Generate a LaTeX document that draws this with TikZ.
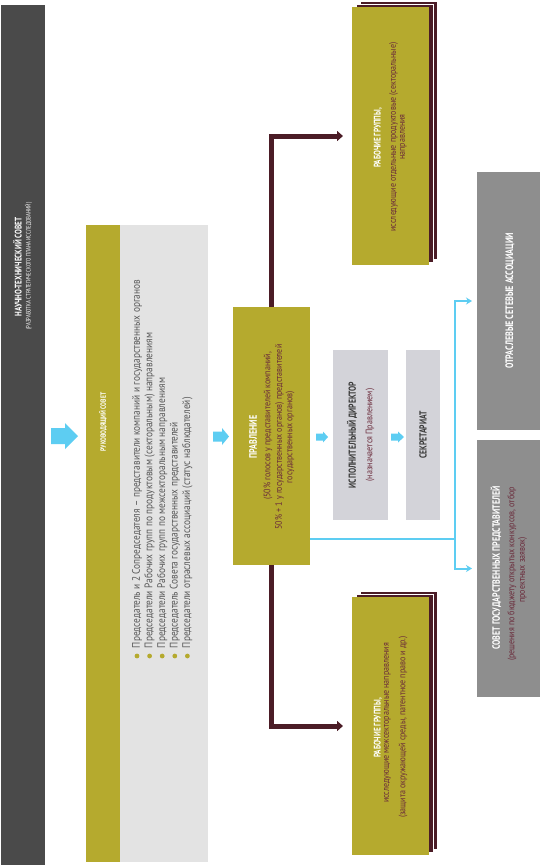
\documentclass[tikz,border=0pt]{standalone}
\usepackage{fontspec}
\setmainfont{PT Sans}
\newfontfamily\cf{PT Sans}[FakeStretch=0.75]
\newfontfamily\bodyf{PT Sans}[FakeStretch=0.85]
\usetikzlibrary{arrows.meta,calc}
\definecolor{ntsgray}{HTML}{4A4A4A}
\definecolor{olive}{HTML}{B5AA2E}
\definecolor{panel}{HTML}{E3E3E3}
\definecolor{idbox}{HTML}{D3D3D9}
\definecolor{rgray}{HTML}{8E8E8E}
\definecolor{maroon}{HTML}{4B1C26}
\definecolor{mtext}{HTML}{6A2A3A}
\definecolor{lblue}{HTML}{5DCDF2}
\definecolor{dtext}{HTML}{3A3A3A}
\newcommand\bluearr[6]{%
  \fill[lblue] (#1,#2-#5) -- (#4,#2-#5) -- (#4,#2-#6) -- (#3,#2) -- (#4,#2+#6) -- (#4,#2+#5) -- (#1,#2+#5) -- cycle;}
\begin{document}
\begin{tikzpicture}[x=1pt,y=-1pt,
  blk/.style={inner sep=0pt, outer sep=0pt, draw=none},
  sheet/.style={blk, fill=maroon, draw=white, line width=0.8pt, minimum width=77pt, minimum height=258pt},
  rgfront/.style={blk, fill=olive, minimum width=77pt, minimum height=258pt},
  rt/.style={rotate=90, inner sep=0pt, outer sep=0pt},
  wtitle/.style={rt, text=white, font=\cf\bfseries\fontsize{#1}{#1}\selectfont},
  dtitle/.style={rt, text=dtext, font=\cf\bfseries\fontsize{#1}{#1}\selectfont},
  mbody/.style={rt, text=mtext, font=\bodyf\fontsize{#1}{#1}\selectfont},
  bullettext/.style={rt, anchor=west, text=dtext!85, font=\bodyf\fontsize{11}{11}\selectfont},
  mconn/.style={draw=maroon, line width=5pt, -{Triangle[length=6pt,width=10pt]}, shorten >=9pt},
  bline/.style={draw=lblue, line width=2pt},
  bconn/.style={bline, -{Stealth[length=6pt,width=7pt]}, shorten >=5pt}]
\useasboundingbox (0,0) rectangle (540,865);
\fill[white] (0,0) rectangle (540,865);

% Scientific-technical council
\node[blk, fill=ntsgray, minimum width=44pt, minimum height=860pt] (nts) at (23,435) {};
\node[wtitle=9.6] (ntst) at (17.5,267) {НАУЧНО-ТЕХНИЧЕСКИЙ СОВЕТ};
\node[rt, text=white, font=\cf\fontsize{6.5}{6.5}\selectfont] (ntss) at (28.5,266) {(РАЗРАБОТКА СТРАТЕГИЧЕСКОГО ПЛАНА ИССЛЕДОВАНИЙ)};

% Steering council
\node[blk, fill=olive, minimum width=34pt, minimum height=637pt] (rsh) at (103,543.5) {};
\node[blk, fill=panel, minimum width=88pt, minimum height=637pt] (rsp) at (164,543.5) {};
\node[wtitle=7.6] (rst) at (103,422) {РУКОВОДЯЩИЙ СОВЕТ};
\foreach \i/\t in {0/{Председатель и 2 Сопредседателя – представители компаний и государственных органов},
  1/{Председатели Рабочих групп по продуктовым (секторальным) направлениям},
  2/{Председатели Рабочих групп по межсекторальным направлениям},
  3/{Председатель Совета государственных представителей},
  4/{Председатели отраслевых ассоциаций (статус наблюдателей)}}{
  \fill[olive] (137+12.6*\i,656) circle (2.4pt);
  \node[bullettext] (b\i) at (137+12.6*\i,648) {\t};
}

% Board
\node[blk, fill=olive, minimum width=77pt, minimum height=258pt] (pr) at (271.5,436) {};
\node[wtitle=10.8] (prt) at (253,437) {ПРАВЛЕНИЕ};
\node[mbody=9.4] (pr1) at (268,426) {(50\% голосов у представителей компаний,};
\node[mbody=9.4] (pr2) at (279.5,437) {50\% + 1 у государственных органов) представителей};
\node[mbody=9.4] (pr3) at (290,437) {государственных органов)};

% Executive director and secretariat
\node[blk, fill=idbox, minimum width=55pt, minimum height=170pt] (id) at (360.5,435) {};
\node[dtitle=10.2] (idt) at (352,435) {ИСПОЛНИТЕЛЬНЫЙ ДИРЕКТОР};
\node[mbody=9.4] (ids) at (370,435) {(назначается Правлением)};
\node[blk, fill=idbox, minimum width=34pt, minimum height=170pt] (sec) at (423,435) {};
\node[dtitle=10.2] (sect) at (423,435) {СЕКРЕТАРИАТ};

% Working groups (top)
\node[sheet] (rg1c) at (398.5,130) {};
\node[sheet] (rg1b) at (394.5,133) {};
\node[rgfront] (rg1) at (390.5,136) {};
\node[wtitle=9.6] (rg1t) at (378,138) {РАБОЧИЕ ГРУППЫ,};
\node[mbody=9.4] (rg1s) at (393.5,137) {исследующие отдельные продуктовые (секторальные)};
\node[mbody=9.4] (rg1u) at (403.5,137) {направления};

% Working groups (bottom)
\node[sheet] (rg2c) at (398.5,720) {};
\node[sheet] (rg2b) at (394.5,723) {};
\node[rgfront] (rg2) at (390.5,726) {};
\node[wtitle=9.6] (rg2t) at (378,728) {РАБОЧИЕ ГРУППЫ,};
\node[mbody=9.4] (rg2s) at (387.5,723) {исследующие межсекторальные направления};
\node[mbody=9.4] (rg2u) at (403,727) {(защита окружающей среды, патентное право и др.)};

% Right gray boxes
\node[blk, fill=rgray, minimum width=63pt, minimum height=258pt] (osa) at (508.5,301) {};
\node[wtitle=10.8] (osat) at (510,301) {ОТРАСЛЕВЫЕ СЕТЕВЫЕ АССОЦИАЦИИ};
\node[blk, fill=rgray, minimum width=63pt, minimum height=257pt] (sgp) at (508.5,568.5) {};
\node[wtitle=10.6] (sgpt) at (496,568) {СОВЕТ ГОСУДАРСТВЕННЫХ ПРЕДСТАВИТЕЛЕЙ};
\node[mbody=9.4] (sgp1) at (512,574) {(решения по бюджету открытых конкурсов, отбор};
\node[mbody=9.4] (sgp2) at (522.5,570) {проектных заявок)};

% Block arrows
\bluearr{51}{436}{78}{65}{8}{13}
\bluearr{213}{436.5}{229}{222}{5}{8.5}
\bluearr{316}{437}{328}{323}{3.5}{5.5}
\bluearr{391}{437}{404}{398}{3.5}{5.5}

% Maroon connectors
\draw[mconn] (pr.north) |- (rg1.west);
\draw[mconn] (pr.south) |- (rg2.west);

% Light blue connectors
\coordinate (bj) at (455,539);
\draw[bline] (bj -| pr.east) -- (bj);
\draw[bconn] (bj) |- (osa.west);
\draw[bconn] (bj) |- (sgp.west);
\end{tikzpicture}
\end{document}
